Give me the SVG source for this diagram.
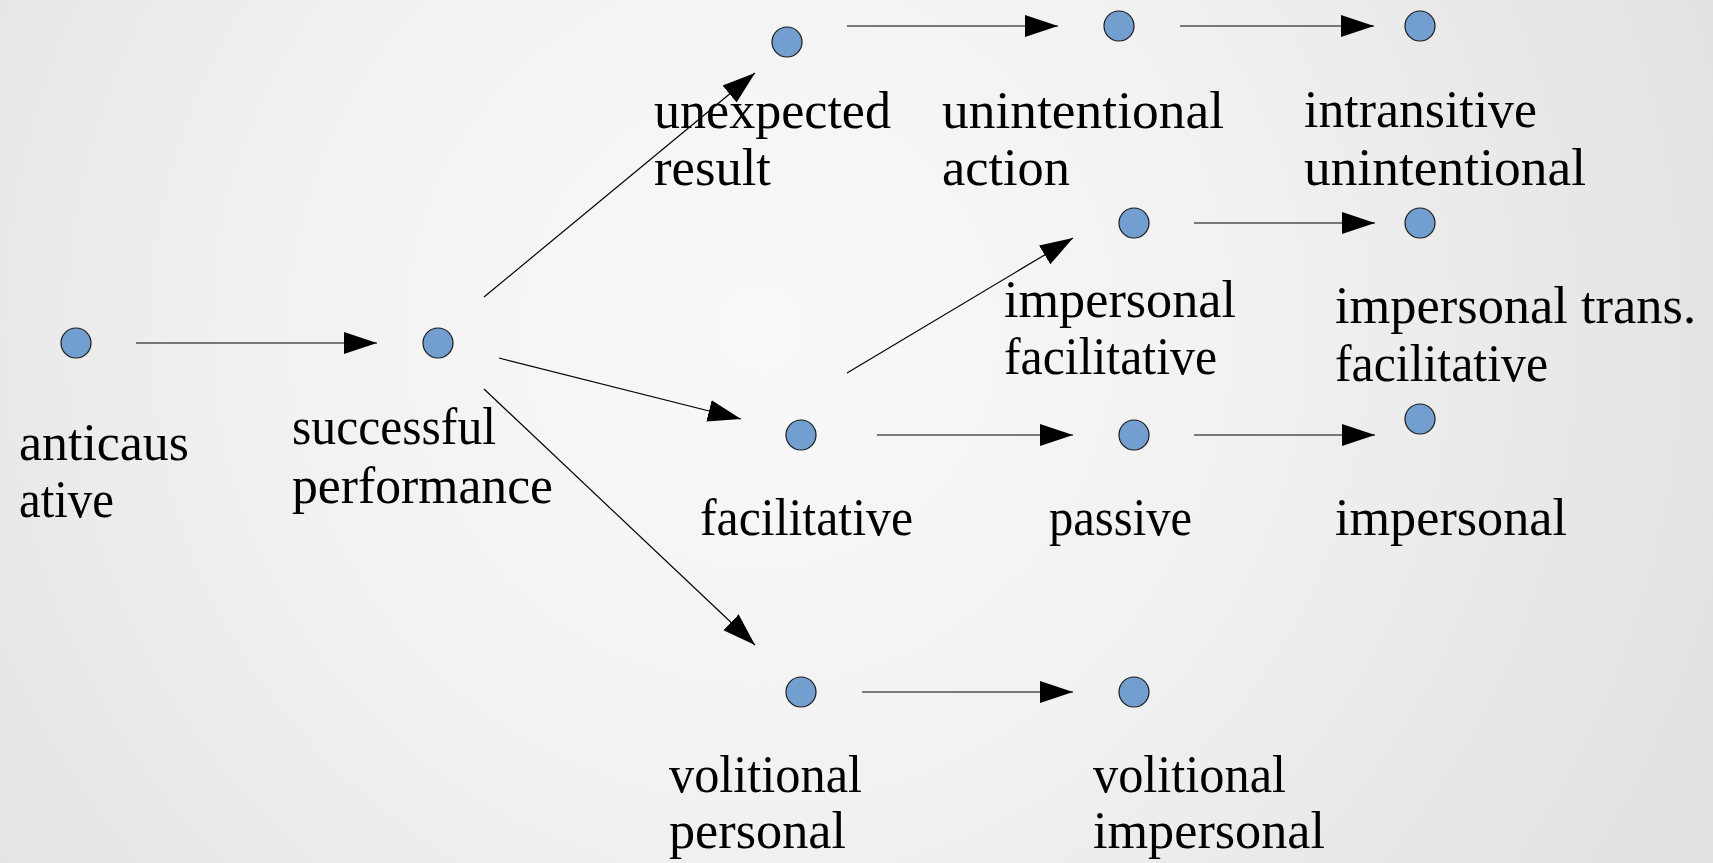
<svg xmlns="http://www.w3.org/2000/svg" width="1713" height="863" viewBox="0 0 1713 863">
<defs>
<radialGradient id="bg" cx="760" cy="330" r="1000" gradientUnits="userSpaceOnUse">
<stop offset="0" stop-color="#f9f9f9"/>
<stop offset="0.5" stop-color="#f1f1f1"/>
<stop offset="1" stop-color="#e2e2e2"/>
</radialGradient>
<marker id="ah" markerUnits="userSpaceOnUse" markerWidth="34" markerHeight="24" refX="33" refY="11" orient="auto" viewBox="0 0 34 22">
<path d="M0,0 L33,11 L0,22 Z" fill="#000"/>
</marker>
<style>
.n{fill:#729fcf;stroke:#1a1a1a;stroke-width:1.2}
.t{font-family:"Liberation Serif","Times New Roman",serif;font-size:52px;fill:#000}
.c line{stroke:#000;stroke-width:1.2;marker-end:url(#ah)}
</style>
</defs>
<rect x="0" y="0" width="1713" height="863" fill="url(#bg)"/>
<g class="c" id="connectors">
<line x1="136" y1="343" x2="377" y2="343"/>
<line x1="484" y1="297" x2="755" y2="73"/>
<line x1="499" y1="358" x2="741" y2="419"/>
<line x1="484" y1="389" x2="755" y2="645"/>
<line x1="847" y1="26" x2="1058" y2="26"/>
<line x1="1180" y1="26" x2="1374" y2="26"/>
<line x1="847" y1="373" x2="1073" y2="238"/>
<line x1="1194" y1="223" x2="1375" y2="223"/>
<line x1="877" y1="435" x2="1073" y2="435"/>
<line x1="1194" y1="435" x2="1375" y2="435"/>
<line x1="862" y1="692" x2="1073" y2="692"/>
</g>
<g id="anticausative"><circle class="n" cx="76" cy="343" r="15"/><text class="t" x="19" y="460" textLength="170" lengthAdjust="spacingAndGlyphs">anticaus</text><text class="t" x="19" y="517" textLength="95" lengthAdjust="spacingAndGlyphs">ative</text></g>
<g id="successful"><circle class="n" cx="438" cy="343" r="15"/><text class="t" x="292" y="444" textLength="204" lengthAdjust="spacingAndGlyphs">successful</text><text class="t" x="292" y="503" textLength="261" lengthAdjust="spacingAndGlyphs">performance</text></g>
<g id="unexpected"><circle class="n" cx="787" cy="42" r="15"/><text class="t" x="654" y="128" textLength="237" lengthAdjust="spacingAndGlyphs">unexpected</text><text class="t" x="654" y="185" textLength="117" lengthAdjust="spacingAndGlyphs">result</text></g>
<g id="unintentional"><circle class="n" cx="1119" cy="26" r="15"/><text class="t" x="942" y="128" textLength="282" lengthAdjust="spacingAndGlyphs">unintentional</text><text class="t" x="942" y="185" textLength="128" lengthAdjust="spacingAndGlyphs">action</text></g>
<g id="intransitive"><circle class="n" cx="1420" cy="26" r="15"/><text class="t" x="1304" y="127" textLength="233" lengthAdjust="spacingAndGlyphs">intransitive</text><text class="t" x="1304" y="185" textLength="282" lengthAdjust="spacingAndGlyphs">unintentional</text></g>
<g id="impfac"><circle class="n" cx="1134" cy="223" r="15"/><text class="t" x="1004" y="317" textLength="232" lengthAdjust="spacingAndGlyphs">impersonal</text><text class="t" x="1004" y="374" textLength="213" lengthAdjust="spacingAndGlyphs">facilitative</text></g>
<g id="imptransfac"><circle class="n" cx="1420" cy="223" r="15"/><text class="t" x="1335" y="323" textLength="361" lengthAdjust="spacingAndGlyphs">impersonal trans.</text><text class="t" x="1335" y="381" textLength="213" lengthAdjust="spacingAndGlyphs">facilitative</text></g>
<g id="facilitative"><circle class="n" cx="801" cy="435" r="15"/><text class="t" x="700" y="535" textLength="213" lengthAdjust="spacingAndGlyphs">facilitative</text></g>
<g id="passive"><circle class="n" cx="1134" cy="435" r="15"/><text class="t" x="1049" y="535" textLength="143" lengthAdjust="spacingAndGlyphs">passive</text></g>
<g id="impersonal"><circle class="n" cx="1420" cy="419" r="15"/><text class="t" x="1335" y="535" textLength="232" lengthAdjust="spacingAndGlyphs">impersonal</text></g>
<g id="volpers"><circle class="n" cx="801" cy="692" r="15"/><text class="t" x="669" y="792" textLength="193" lengthAdjust="spacingAndGlyphs">volitional</text><text class="t" x="669" y="848" textLength="177" lengthAdjust="spacingAndGlyphs">personal</text></g>
<g id="volimp"><circle class="n" cx="1134" cy="692" r="15"/><text class="t" x="1093" y="792" textLength="193" lengthAdjust="spacingAndGlyphs">volitional</text><text class="t" x="1093" y="848" textLength="232" lengthAdjust="spacingAndGlyphs">impersonal</text></g>
</svg>
